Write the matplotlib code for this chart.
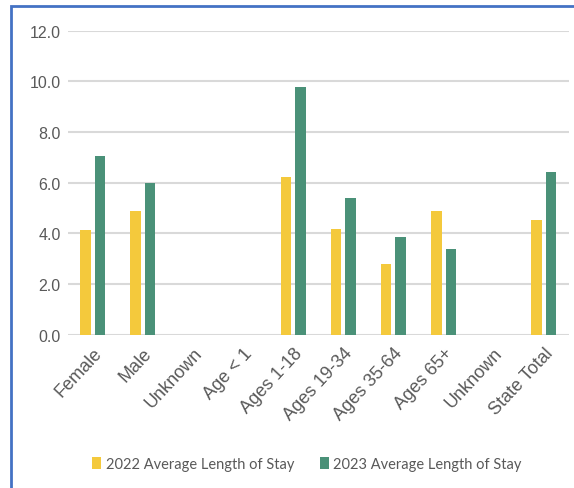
import numpy as np
import matplotlib.pyplot as plt
from matplotlib.patches import Rectangle

categories = ["Female", "Male", "Unknown", "Age < 1", "Ages 1-18", "Ages 19-34",
              "Ages 35-64", "Ages 65+", "Unknown", "State Total"]
stay_2022 = [4.13, 4.87, 0, 0, 6.22, 4.17, 2.80, 4.87, 0, 4.54]
stay_2023 = [7.04, 6.00, 0, 0, 9.79, 5.38, 3.86, 3.38, 0, 6.43]
yticks = [0, 2, 4, 6, 8, 10, 12]

yellow = "#F4C93C"
green = "#4A9178"
text_col = "#595959"

fig = plt.figure(figsize=(5.74, 4.89), dpi=100)
ax = fig.add_axes([0.118, 0.3135, 0.873, 0.6215])

x = np.arange(len(categories))
w = 0.21
ax.bar(x - 0.145, stay_2022, w, color=yellow, label="2022 Average Length of Stay", zorder=3)
ax.bar(x + 0.145, stay_2023, w, color=green, label="2023 Average Length of Stay", zorder=3)

ax.set_xlim(-0.5, len(categories) - 0.5)
ax.set_ylim(0, 12)
ax.set_yticks(yticks)
ax.set_yticklabels([f"{v:.1f}" for v in yticks], family="Liberation Sans",
                   fontsize=11.5, color=text_col)
ax.set_xticks(x)
ax.set_xticklabels(categories, rotation=47, ha="right", rotation_mode="anchor",
                   family="Liberation Sans", fontsize=13, color=text_col)
ax.tick_params(length=0, axis="both")
ax.tick_params(axis="y", pad=5)
ax.tick_params(axis="x", pad=7)
ax.grid(axis="y", color="#D9D9D9", linewidth=1.5, zorder=0)
for s in ax.spines.values():
    s.set_visible(False)

leg = fig.legend(loc="center", bbox_to_anchor=(0.535, 0.05), ncol=2, frameon=False,
                 prop={"family": "Lato", "size": 10.5}, handlelength=0.6,
                 handleheight=0.9, handletextpad=0.3, columnspacing=1.8)
for t in leg.get_texts():
    t.set_color(text_col)

# blue frame around the chart
fig.patches.append(Rectangle((11 / 574, -0.05), 1.1, 1 - 7 / 489 + 0.05,
                             transform=fig.transFigure, fill=False,
                             edgecolor="#4472C4", linewidth=2))

fig.savefig("out.png", dpi=100)
